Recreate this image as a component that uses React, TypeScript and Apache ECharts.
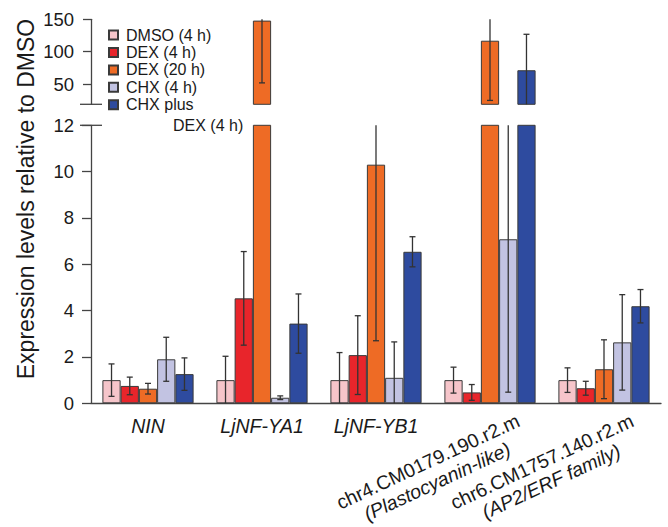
import React, { useEffect, useRef } from 'react';
import * as echarts from 'echarts';

const categories = [
  'NIN',
  'LjNF-YA1',
  'LjNF-YB1',
  'chr4.CM0179.190.r2.m\n(Plastocyanin-like)',
  'chr6.CM1757.140.r2.m\n(AP2/ERF family)',
];
const seriesNames = ['DMSO (4 h)', 'DEX (4 h)', 'DEX (20 h)', 'CHX (4 h)', 'CHX plus DEX (4 h)'];

const dmso = [1.0, 1.0, 1.0, 1.0, 1.0];
const dmsoErr = [0.7, 1.03, 1.19, 0.56, 0.53];
const dex4 = [0.75, 4.53, 2.08, 0.47, 0.65];
const dex4Err = [0.38, 2.02, 1.7, 0.34, 0.3];
const dex20 = [0.63, 148, 10.3, 117, 1.47];
const dex20Err = [0.23, 96, 7.6, 92, 1.27];
const chx4 = [1.9, 0.24, 1.1, 7.08, 2.63];
const chx4Err = [0.95, 0.08, 1.55, 6.6, 2.06];
const chxDex = [1.26, 3.44, 6.54, 71.5, 4.19];
const chxDexErr = [0.7, 1.28, 0.65, 55.4, 0.72];

const lowerTicks = [0, 2, 4, 6, 8, 10, 12];
const upperTicks = [50, 100, 150];

const colors = ['#F6C5CA', '#E8252B', '#EE6B25', '#C2C3E2', '#2E4B9F'];

const FONT = '"Liberation Sans", Arial, Helvetica, sans-serif';
const TEXT = '#1a1a1a';
const AXIS = '#444444';

const LOWER_MIN = lowerTicks[0];
const LOWER_MAX = lowerTicks[lowerTicks.length - 1];
const UPPER_MIN = 19;
const UPPER_MAX = upperTicks[upperTicks.length - 1];
const GAP_FRAC = 0.2;

export default function App() {
  const ref = useRef<HTMLDivElement>(null);

  useEffect(() => {
    document.body.style.margin = '0';
    const el = ref.current!;
    const chart = echarts.init(el, null, { renderer: 'svg' });

    const values = [dmso, dex4, dex20, chx4, chxDex];
    const errs = [dmsoErr, dex4Err, dex20Err, chx4Err, chxDexErr];
    const errData: number[][] = [];
    values.forEach((arr, s) => arr.forEach((v, c) => errData.push([c, s, v, errs[s][c]])));

    const makeErr = (gi: number, minV: number, maxV: number, above: number | null) => ({
      type: 'custom',
      xAxisIndex: gi,
      yAxisIndex: gi,
      silent: true,
      z: 10,
      encode: { x: 0, y: 2 },
      data: errData.filter((d) => above === null || d[2] > above),
      renderItem: (params: any, api: any) => {
        const cat = api.value(0);
        const s = api.value(1);
        const v = api.value(2);
        const e = api.value(3);
        const band = api.size([1, 0])[0];
        const bw = (band * (1 - GAP_FRAC)) / 5;
        const cx = api.coord([cat, v])[0] + (s - 2) * bw;
        const top = v + e;
        const bot = v - e;
        const hiV = Math.min(top, maxV);
        const loV = Math.max(bot, minV);
        const children: any[] = [];
        if (hiV > loV) {
          const yHi = api.coord([cat, hiV])[1];
          const yLo = api.coord([cat, loV])[1];
          const style = { stroke: '#333333', lineWidth: 1.3 };
          const cap = 3;
          children.push({ type: 'line', shape: { x1: cx, y1: yHi, x2: cx, y2: yLo }, style });
          if (top <= maxV) children.push({ type: 'line', shape: { x1: cx - cap, y1: yHi, x2: cx + cap, y2: yHi }, style });
          if (bot >= minV) children.push({ type: 'line', shape: { x1: cx - cap, y1: yLo, x2: cx + cap, y2: yLo }, style });
        }
        return { type: 'group', children };
      },
    });

    const barSeries: any[] = [];
    [0, 1].forEach((gi) => {
      values.forEach((arr, s) => {
        barSeries.push({
          type: 'bar',
          name: seriesNames[s],
          xAxisIndex: gi,
          yAxisIndex: gi,
          data: arr,
          barGap: '0%',
          barCategoryGap: GAP_FRAC * 100 + '%',
          clip: true,
          itemStyle: { color: colors[s], borderColor: '#3a3a3a', borderWidth: 1 },
          emphasis: { disabled: true },
        });
      });
    });

    const option: any = {
      animation: false,
      textStyle: { fontFamily: FONT },
      grid: [
        { left: 91, right: 7, top: 19.3, height: 85 },
        { left: 91, right: 7, top: 125.3, height: 278 },
      ],
      legend: {
        data: seriesNames,
        orient: 'vertical',
        left: 108,
        top: 27,
        padding: 0,
        itemWidth: 9,
        itemHeight: 9,
        itemGap: 1.45,
        icon: 'rect',
        selectedMode: false,
        textStyle: { fontSize: 16, fontFamily: FONT, color: TEXT, lineHeight: 16, padding: [0, 0, 0, 3] },
        formatter: (n: string) => (n === 'CHX plus DEX (4 h)' ? 'CHX plus' : n),
      },
      xAxis: [
        { gridIndex: 0, type: 'category', data: categories, show: false },
        {
          gridIndex: 1,
          type: 'category',
          data: categories,
          axisLine: { lineStyle: { color: AXIS, width: 1.3 } },
          axisTick: { inside: true, length: 5, lineStyle: { color: AXIS, width: 1.3 } },
          axisLabel: {
            interval: 0,
            margin: 13,
            fontSize: 19.5,
            fontStyle: 'italic',
            fontFamily: FONT,
            color: TEXT,
            formatter: (v: string, i: number) => (i < 3 ? v : ''),
          },
        },
      ],
      yAxis: [
        {
          gridIndex: 0,
          type: 'value',
          min: UPPER_MIN,
          max: UPPER_MAX,
          splitLine: { show: false },
          axisLine: { show: true, lineStyle: { color: AXIS, width: 1.3 } },
          axisTick: { show: true, length: 8, customValues: upperTicks, lineStyle: { color: AXIS, width: 1.3 } },
          axisLabel: { customValues: upperTicks, fontSize: 18.5, margin: 17, color: TEXT, fontFamily: FONT },
        },
        {
          gridIndex: 1,
          type: 'value',
          min: LOWER_MIN,
          max: LOWER_MAX,
          interval: 2,
          splitLine: { show: false },
          axisLine: { show: true, lineStyle: { color: AXIS, width: 1.3 } },
          axisTick: { show: true, length: 9, lineStyle: { color: AXIS, width: 1.3 } },
          axisLabel: { fontSize: 18.5, margin: 17, color: TEXT, fontFamily: FONT },
        },
      ],
      series: [...barSeries, makeErr(0, UPPER_MIN, UPPER_MAX, LOWER_MAX), makeErr(1, LOWER_MIN, LOWER_MAX, null)],
    };

    chart.setOption(option);

    const axisX = 91;
    const y12 = chart.convertToPixel({ yAxisIndex: 1 } as any, LOWER_MAX) as unknown as number;
    const yUpMin = chart.convertToPixel({ yAxisIndex: 0 } as any, UPPER_MIN) as unknown as number;
    const y0 = chart.convertToPixel({ yAxisIndex: 1 } as any, LOWER_MIN) as unknown as number;
    const ang = (25 * Math.PI) / 180;
    const rotLabel = (i: number) => {
      const cx = chart.convertToPixel({ xAxisIndex: 1 } as any, categories[i]) as unknown as number;
      const parts = categories[i].split('\n');
      return {
        type: 'text',
        x: cx - 57.5,
        y: y0 + 68,
        rotation: ang,
        silent: true,
        style: {
          text: '{a|' + parts[0] + '}\n{b|' + parts[1] + '}',
          align: 'center',
          verticalAlign: 'middle',
          fill: TEXT,
          fontFamily: FONT,
          fontSize: 19.5,
          rich: {
            a: { fontSize: 19.5, fontFamily: FONT, lineHeight: 22, align: 'center', fill: TEXT },
            b: { fontSize: 19.5, fontFamily: FONT, fontStyle: 'italic', lineHeight: 22, align: 'center', fill: TEXT },
          },
        },
      };
    };
    const breakLine = (y: number) => ({
      type: 'line',
      silent: true,
      shape: { x1: axisX - 11, y1: y, x2: axisX + 11, y2: y },
      style: { stroke: AXIS, lineWidth: 1.3 },
    });

    chart.setOption({
      graphic: [
        breakLine(y12),
        breakLine(yUpMin),
        rotLabel(3),
        rotLabel(4),
        {
          type: 'text',
          x: 173,
          y: 125,
          silent: true,
          style: { text: 'DEX (4 h)', fontSize: 16, fontFamily: FONT, fill: TEXT, verticalAlign: 'middle' },
        },
        {
          type: 'text',
          x: 26,
          y: 199,
          rotation: Math.PI / 2,
          silent: true,
          style: {
            text: 'Expression levels relative to DMSO',
            fontSize: 23,
            fontFamily: FONT,
            fill: TEXT,
            align: 'center',
            verticalAlign: 'middle',
          },
        },
      ],
    });

    return () => chart.dispose();
  }, []);

  return <div ref={ref} style={{ width: 668, height: 527 }} />;
}
